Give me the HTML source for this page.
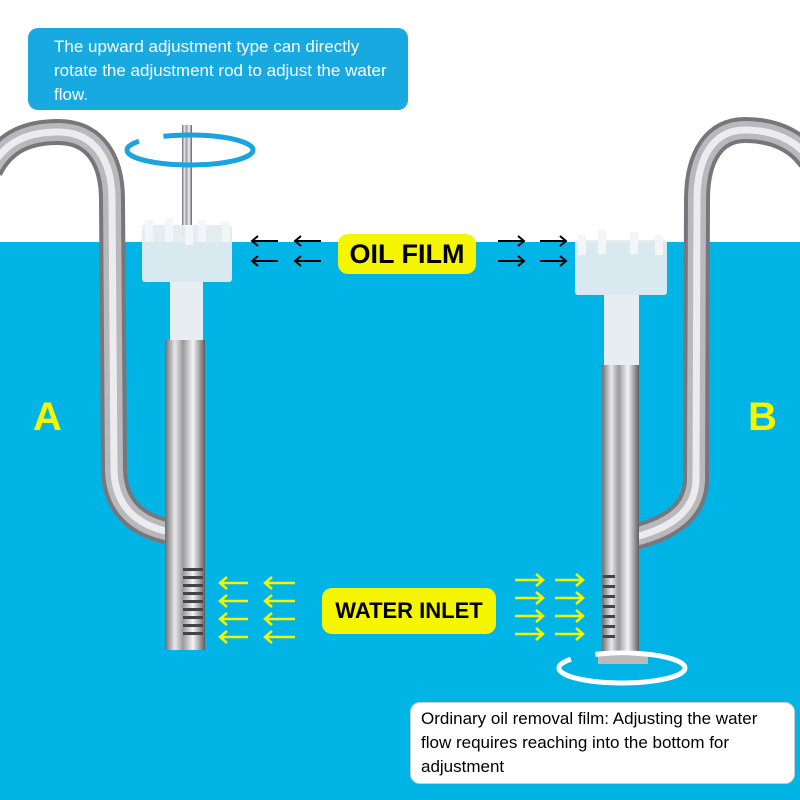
<!DOCTYPE html>
<html><head><meta charset="utf-8"><style>
html,body{margin:0;padding:0;width:800px;height:800px;overflow:hidden;background:#fff;font-family:"Liberation Sans",sans-serif}
.box{position:absolute;border-radius:10px;font-size:16px;line-height:24px}
</style></head><body>
<svg width="800" height="800" style="position:absolute;left:0;top:0">
<defs>
<linearGradient id="st" x1="0" x2="1" y1="0" y2="0">
<stop offset="0" stop-color="#6d6d70"/><stop offset="0.25" stop-color="#e8e8ea"/><stop offset="0.45" stop-color="#9a9a9e"/><stop offset="0.7" stop-color="#f4f4f4"/><stop offset="1" stop-color="#5e5e62"/></linearGradient>
</defs>
<rect x="0" y="242" width="800" height="560" fill="#00b5e6"/>
<!-- left outer pipe -->
<g fill="none">
<path id="lp" d="M-10,170 C5,140 30,132 58,132 C95,132 112,160 112,200 L114,470 C115,505 135,525 170,532"/>
<use href="#lp" stroke="#77777b" stroke-width="26"/>
<use href="#lp" stroke="#b9b9bd" stroke-width="18"/>
<use href="#lp" stroke="#ececee" stroke-width="7"/>
</g>
<!-- left main -->
<rect x="165" y="340" width="40" height="310" fill="url(#st)"/>
<g fill="#444">
<rect x="183" y="568" width="20" height="3"/><rect x="183" y="576" width="20" height="3"/><rect x="183" y="584" width="20" height="3"/><rect x="183" y="592" width="20" height="3"/><rect x="183" y="600" width="20" height="3"/><rect x="183" y="608" width="20" height="3"/><rect x="183" y="616" width="20" height="3"/><rect x="183" y="624" width="20" height="3"/><rect x="183" y="632" width="20" height="3"/></g>
<rect x="170" y="282" width="33" height="58" fill="#e6eef2"/>
<rect x="182" y="125" width="10" height="110" fill="url(#st)"/>
<rect x="142" y="225" width="90" height="57" rx="3" fill="#e4ecf0" opacity="0.95"/>
<g fill="#f2f6f8"><rect x="145" y="220" width="8" height="22"/><rect x="165" y="218" width="8" height="24"/><rect x="198" y="220" width="8" height="22"/><rect x="222" y="222" width="8" height="20"/><rect x="185" y="225" width="8" height="20"/></g>
<ellipse cx="190" cy="150" rx="63" ry="15" fill="none" stroke="#1aa3dd" stroke-width="5" stroke-dasharray="150 25"/>
<!-- right outer pipe -->
<g fill="none">
<path id="rp" d="M810,160 C795,138 770,130 745,130 C715,130 697,155 697,200 L696,480 C695,512 670,528 635,537"/>
<use href="#rp" stroke="#77777b" stroke-width="26"/>
<use href="#rp" stroke="#b9b9bd" stroke-width="18"/>
<use href="#rp" stroke="#ececee" stroke-width="7"/>
</g>
<rect x="602" y="365" width="37" height="290" fill="url(#st)"/>
<g fill="#444"><rect x="603" y="575" width="12" height="3"/><rect x="603" y="585" width="12" height="3"/><rect x="603" y="595" width="12" height="3"/><rect x="603" y="605" width="12" height="3"/><rect x="603" y="615" width="12" height="3"/><rect x="603" y="625" width="12" height="3"/><rect x="603" y="635" width="12" height="3"/></g>
<rect x="598" y="656" width="50" height="8" fill="#bbb"/>
<rect x="604" y="295" width="35" height="70" fill="#e6eef2"/>
<rect x="575" y="240" width="92" height="55" rx="3" fill="#e4ecf0" opacity="0.95"/>
<g fill="#f2f6f8"><rect x="578" y="235" width="8" height="20"/><rect x="598" y="230" width="8" height="24"/><rect x="630" y="232" width="8" height="22"/><rect x="655" y="235" width="8" height="20"/></g>
<ellipse cx="622" cy="668" rx="63" ry="15" fill="none" stroke="#fff" stroke-width="5" stroke-dasharray="150 25"/>
<!-- black arrows -->
<g stroke="#000" stroke-width="2" fill="none">
<path d="M252,241h26M258,236l-6,5 6,5M295,241h26M301,236l-6,5 6,5"/>
<path d="M252,261h26M258,256l-6,5 6,5M295,261h26M301,256l-6,5 6,5"/>
<path d="M498,241h26M518,236l6,5-6,5M540,241h26M560,236l6,5-6,5"/>
<path d="M498,261h26M518,256l6,5-6,5M540,261h26M560,256l6,5-6,5"/>
</g>
<g stroke="#f5f500" stroke-width="2.5" fill="none">
<path d="M220,583h28M227,577l-7,6 7,6M265,583h30M272,577l-7,6 7,6"/>
<path d="M220,601h28M227,595l-7,6 7,6M265,601h30M272,595l-7,6 7,6"/>
<path d="M220,619h28M227,613l-7,6 7,6M265,619h30M272,613l-7,6 7,6"/>
<path d="M220,637h28M227,631l-7,6 7,6M265,637h30M272,631l-7,6 7,6"/>
<path d="M515,580h28M536,574l7,6-7,6M555,580h28M576,574l7,6-7,6"/>
<path d="M515,598h28M536,592l7,6-7,6M555,598h28M576,592l7,6-7,6"/>
<path d="M515,616h28M536,610l7,6-7,6M555,616h28M576,610l7,6-7,6"/>
<path d="M515,634h28M536,628l7,6-7,6M555,634h28M576,628l7,6-7,6"/>
</g>
<text x="33" y="430" font-size="40" font-weight="bold" fill="#f5f500" font-family="Liberation Sans">A</text>
<text x="748" y="430" font-size="40" font-weight="bold" fill="#f5f500" font-family="Liberation Sans">B</text>
</svg>
<div class="box" style="left:338px;top:234px;width:138px;height:40px;background:#f5f500;font-weight:bold;font-size:27px;line-height:40px;text-align:center">OIL FILM</div>
<div class="box" style="left:322px;top:588px;width:174px;height:46px;background:#f5f500;font-weight:bold;font-size:22px;line-height:46px;text-align:center">WATER INLET</div>
<div class="box" style="left:28px;top:28px;width:380px;height:82px;background:#18a9e1;color:#fff;padding:7px 20px 0 26px;box-sizing:border-box;font-size:17px">The upward adjustment type can directly rotate the adjustment rod to adjust the water flow.</div>
<div class="box" style="left:410px;top:702px;width:385px;height:82px;background:#fff;color:#000;padding:4px 20px 0 10px;box-sizing:border-box;border:1px solid #ccc;font-size:17px">Ordinary oil removal film: Adjusting the water flow requires reaching into the bottom for adjustment</div>
</body></html>
